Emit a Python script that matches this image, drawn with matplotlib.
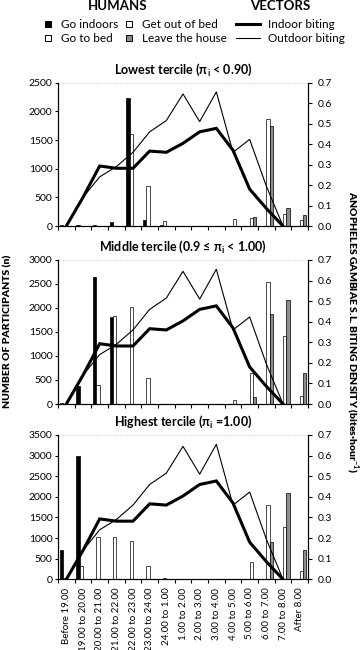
import numpy as np
import matplotlib
matplotlib.use("Agg")
import matplotlib.pyplot as plt
from matplotlib.patches import Rectangle
from matplotlib.lines import Line2D

plt.rcParams['font.family'] = ['Lato', 'DejaVu Sans']
plt.rcParams['mathtext.fontset'] = 'custom'
plt.rcParams['mathtext.rm'] = 'Lato'
plt.rcParams['mathtext.bf'] = 'Lato:bold'

categories = ["Before 19.00", "19.00 to 20.00", "20.00 to 21.00", "21.00 to 22.00",
              "22.00 to 23.00", "23.00 to 24.00", "24.00 to 1.00", "1.00 to 2.00",
              "2.00 to 3.00", "3.00 to 4.00", "4.00 to 5.00", "5.00 to 6.00",
              "6.00 to 7.00", "7.00 to 8.00", "After 8.00"]

# vector biting density (bites per hour), same in every panel
indoor_biting = [0, 0.14, 0.293, 0.282, 0.282, 0.366, 0.36, 0.404, 0.46, 0.477,
                 0.37, 0.18, 0.086, 0.0, np.nan]
outdoor_biting = [0, 0.14, 0.24, 0.29, 0.36, 0.46, 0.515, 0.645, 0.51, 0.655,
                  0.36, 0.423, 0.195, 0.0, np.nan]

# lowest tercile
low_indoors = [10, 10, 10, 70, 2225, 110, 20, 0, 0, 0, 0, 0, 0, 0, 0]
low_bed = [0, 0, 0, 0, 1605, 695, 95, 5, 0, 0, 0, 0, 0, 0, 0]
low_outbed = [0, 0, 0, 0, 0, 0, 5, 5, 5, 5, 125, 140, 1860, 210, 100]
low_leave = [0, 0, 0, 0, 0, 0, 0, 0, 0, 0, 0, 165, 1750, 320, 185]

# middle tercile
mid_indoors = [15, 370, 2640, 1820, 0, 0, 10, 0, 0, 0, 0, 0, 0, 0, 0]
mid_bed = [0, 0, 390, 1840, 2030, 550, 10, 0, 0, 0, 0, 0, 0, 0, 0]
mid_outbed = [0, 0, 0, 0, 0, 0, 0, 5, 5, 5, 80, 640, 2535, 1425, 175]
mid_leave = [0, 0, 0, 0, 0, 0, 0, 0, 0, 0, 0, 150, 1875, 2165, 655]

# highest tercile
high_indoors = [710, 3000, 0, 0, 0, 0, 10, 0, 0, 0, 0, 0, 0, 0, 0]
high_bed = [20, 320, 1035, 1015, 920, 325, 20, 0, 0, 0, 0, 0, 0, 0, 0]
high_outbed = [0, 0, 0, 0, 0, 0, 0, 5, 5, 5, 5, 425, 1800, 1280, 195]
high_leave = [0, 0, 0, 0, 0, 0, 0, 0, 0, 0, 0, 0, 915, 2085, 710]

panels = [
    ("Lowest tercile (π$_\\mathregular{i}$ < 0.90)", 2500,
     [low_indoors, low_bed, low_outbed, low_leave]),
    ("Middle tercile (0.9 ≤ π$_\\mathregular{i}$ < 1.00)", 3000,
     [mid_indoors, mid_bed, mid_outbed, mid_leave]),
    ("Highest tercile (π$_\\mathregular{i}$ =1.00)", 3500,
     [high_indoors, high_bed, high_outbed, high_leave]),
]

bar_colors = ["black", "white", "white", "#8c8c8c"]
offsets = [-0.3, -0.1, 0.1, 0.3]

W, H = 360, 650
fig = plt.figure(figsize=(3.6, 6.5), dpi=100)

ax_top = [82.7, 260, 435]
ax_bot = [226, 404, 579.3]
x0, x1 = 58, 308
x = np.arange(len(categories))

for i, (title, ymax, series) in enumerate(panels):
    ax = fig.add_axes([x0 / W, 1 - ax_bot[i] / H, (x1 - x0) / W,
                       (ax_bot[i] - ax_top[i]) / H])
    for s, col, off in zip(series, bar_colors, offsets):
        ax.bar(x + off, s, width=0.2, color=col, edgecolor="black", linewidth=0.5)
    ax.set_xlim(-0.5, len(categories) - 0.5)
    ax.set_ylim(0, ymax)
    ax.set_yticks(np.arange(0, ymax + 1, 500))
    ax.axhline(ymax, color="#bbbbbb", lw=0.6, ls=":", clip_on=False)
    ax.spines['top'].set_visible(False)
    ax.set_xticks(np.arange(-0.5, len(categories), 1))
    ax.set_xticklabels([])
    ax.tick_params(axis='x', direction='out', length=3, width=0.8)
    ax.tick_params(axis='y', direction='out', length=2, labelsize=7.5, pad=2)
    if i == 2:
        ax.set_xticks(x, minor=True)
        ax.set_xticklabels(categories, minor=True, rotation=90, fontsize=7)
        ax.tick_params(axis='x', which='minor', length=0, pad=6)

    ax2 = ax.twinx()
    ax2.plot(x, indoor_biting, color="black", lw=2.2, solid_joinstyle='miter')
    ax2.plot(x, outdoor_biting, color="black", lw=0.8)
    ax2.set_ylim(0, 0.7)
    ax2.set_yticks(np.arange(0, 0.71, 0.1))
    ax2.set_yticklabels(["%.1f" % v for v in np.arange(0, 0.71, 0.1)])
    ax2.spines['top'].set_visible(False)
    ax2.tick_params(axis='y', direction='out', length=3, labelsize=7.5, pad=4)

    fig.text(183 / W, 1 - (ax_top[i] - 13) / H, title, ha="center", va="center",
             fontsize=9, fontweight="bold")

# left and right axis labels
fig.text(8 / W, 1 - 331 / H, "NUMBER OF PARTICIPANTS (n)", rotation=90,
         ha="center", va="center", fontsize=7.5, fontweight="heavy")
fig.text(352 / W, 1 - 332 / H,
         "ANOPHELES GAMBIAE S.L. BITING DENSITY (bites·hour$^{\\mathbf{-1}}$)",
         rotation=270, ha="center", va="center", fontsize=7.5, fontweight="heavy")

# legend header
fig.text(118 / W, 1 - 6 / H, "HUMANS", ha="center", va="center",
         fontsize=9.5, fontweight="bold")
fig.text(280 / W, 1 - 6 / H, "VECTORS", ha="center", va="center",
         fontsize=9.5, fontweight="bold")

legend_boxes = [(48, 24, "black", "Go indoors"), (48, 38, "white", "Go to bed"),
                (129, 24, "white", "Get out of bed"), (129, 38, "#8c8c8c", "Leave the house")]
for bx, by, col, lab in legend_boxes:
    fig.add_artist(Rectangle(((bx - 3) / W, 1 - (by + 3) / H), 6 / W, 6 / H,
                             transform=fig.transFigure, facecolor=col,
                             edgecolor="black", linewidth=0.7))
    fig.text((bx + 13) / W, 1 - by / H, lab, ha="left", va="center", fontsize=8.5)

for ly, lw, lab in [(24, 2.2, "Indoor biting"), (38, 0.8, "Outdoor biting")]:
    fig.add_artist(Line2D([236 / W, 260 / W], [1 - ly / H, 1 - ly / H],
                          transform=fig.transFigure, color="black", lw=lw))
    fig.text(268 / W, 1 - ly / H, lab, ha="left", va="center", fontsize=8.5)

fig.savefig("out.png", dpi=100)
